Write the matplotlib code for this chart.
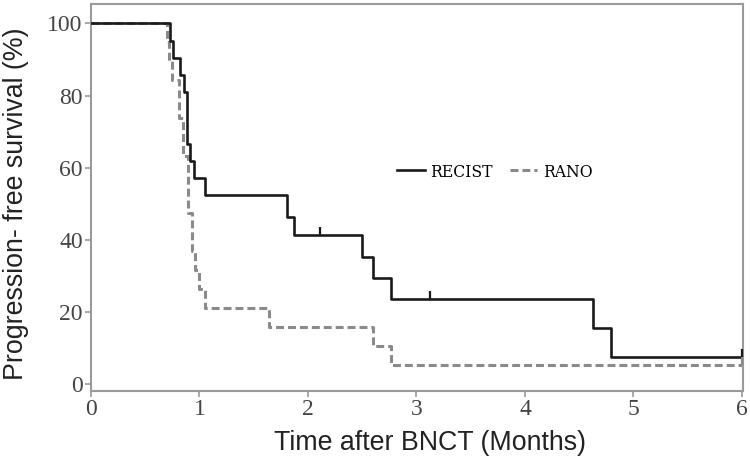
import matplotlib
matplotlib.use("Agg")
import matplotlib.pyplot as plt
from matplotlib.lines import Line2D

# ---- data ----
recist_t = [0, 0.728, 0.759, 0.82, 0.857, 0.888, 0.912, 0.949, 1.05, 1.803, 1.874,
            2.497, 2.596, 2.762, 4.63, 4.793, 6.0]
recist_s = [100, 95.2, 90.5, 85.7, 81.0, 66.7, 61.9, 57.1, 52.4, 46.4, 41.4,
            35.4, 29.5, 23.5, 15.5, 7.5, 7.5]
recist_cens_t = [2.11, 3.124, 6.0]
recist_cens_s = [41.4, 23.5, 7.5]

rano_t = [0, 0.697, 0.72, 0.75, 0.81, 0.848, 0.89, 0.927, 0.958, 0.995, 1.05,
          1.643, 2.596, 2.762, 6.0]
rano_s = [100, 94.7, 89.5, 84.2, 73.7, 63.2, 47.4, 36.8, 31.6, 26.3, 21.1,
          15.8, 10.5, 5.3, 5.3]
rano_cens_t = [6.0]
rano_cens_s = [5.3]

xticks = [0, 1, 2, 3, 4, 5, 6]
yticks = [0, 20, 40, 60, 80, 100]
labels = ["RECIST", "RANO"]

# ---- figure ----
fig = plt.figure(figsize=(7.5, 4.63), dpi=100)
ax = fig.add_axes([0.1213, 0.1561, 0.8694, 0.8353])

black = "#1a1a1a"
gray = "#8a8a8a"
spine_c = "#9a9a9a"

ax.step(recist_t, recist_s, where="post", color=black, lw=1.9, zorder=3)
ax.step(rano_t, rano_s, where="post", color=gray, lw=2.2, dashes=(2.6, 1.3), zorder=2)

up_tick = [(0, 0), (0, 1)]
ax.plot(recist_cens_t, recist_cens_s, ls="none", marker=up_tick, ms=11,
        mec=black, mew=1.6, color=black, clip_on=False, zorder=4)
ax.plot(rano_cens_t, rano_cens_s, ls="none", marker=up_tick, ms=11,
        mec=gray, mew=1.6, color=gray, clip_on=False, zorder=4)

ax.set_xlim(0, 6.01)
ax.set_ylim(-1.77, 105.35)
ax.set_xticks(xticks)
ax.set_yticks(yticks)
ax.set_xticklabels([str(v) for v in xticks], family="Liberation Serif", fontsize=17, color="#444444")
ax.set_yticklabels([str(v) for v in yticks], family="Liberation Serif", fontsize=17, color="#444444")
ax.tick_params(direction="out", length=4, width=1.2, color=spine_c, pad=2)
for s in ax.spines.values():
    s.set_color(spine_c)
    s.set_linewidth(1.5)

ax.set_xlabel("Time after BNCT (Months)", family="Liberation Sans", fontsize=19.3, color="#222222")
ax.xaxis.set_label_coords(0.52, -0.101)
ax.set_ylabel("Progression- free survival (%)", family="Liberation Sans", fontsize=19.3, color="#222222")
ax.yaxis.set_label_coords(-0.095, 0.483)

handles = [Line2D([], [], color=black, lw=1.9),
           Line2D([], [], color=gray, lw=2.2, dashes=(2.6, 1.3))]
ax.legend(handles, labels, loc="center left", bbox_to_anchor=(0.469, 0.5655), ncol=2,
          frameon=False, handlelength=1.6, handletextpad=0.3, columnspacing=1.0,
          borderpad=0, borderaxespad=0,
          prop=dict(family="DejaVu Serif", stretch="condensed", size=12.5))

fig.savefig("out.png", dpi=100)
